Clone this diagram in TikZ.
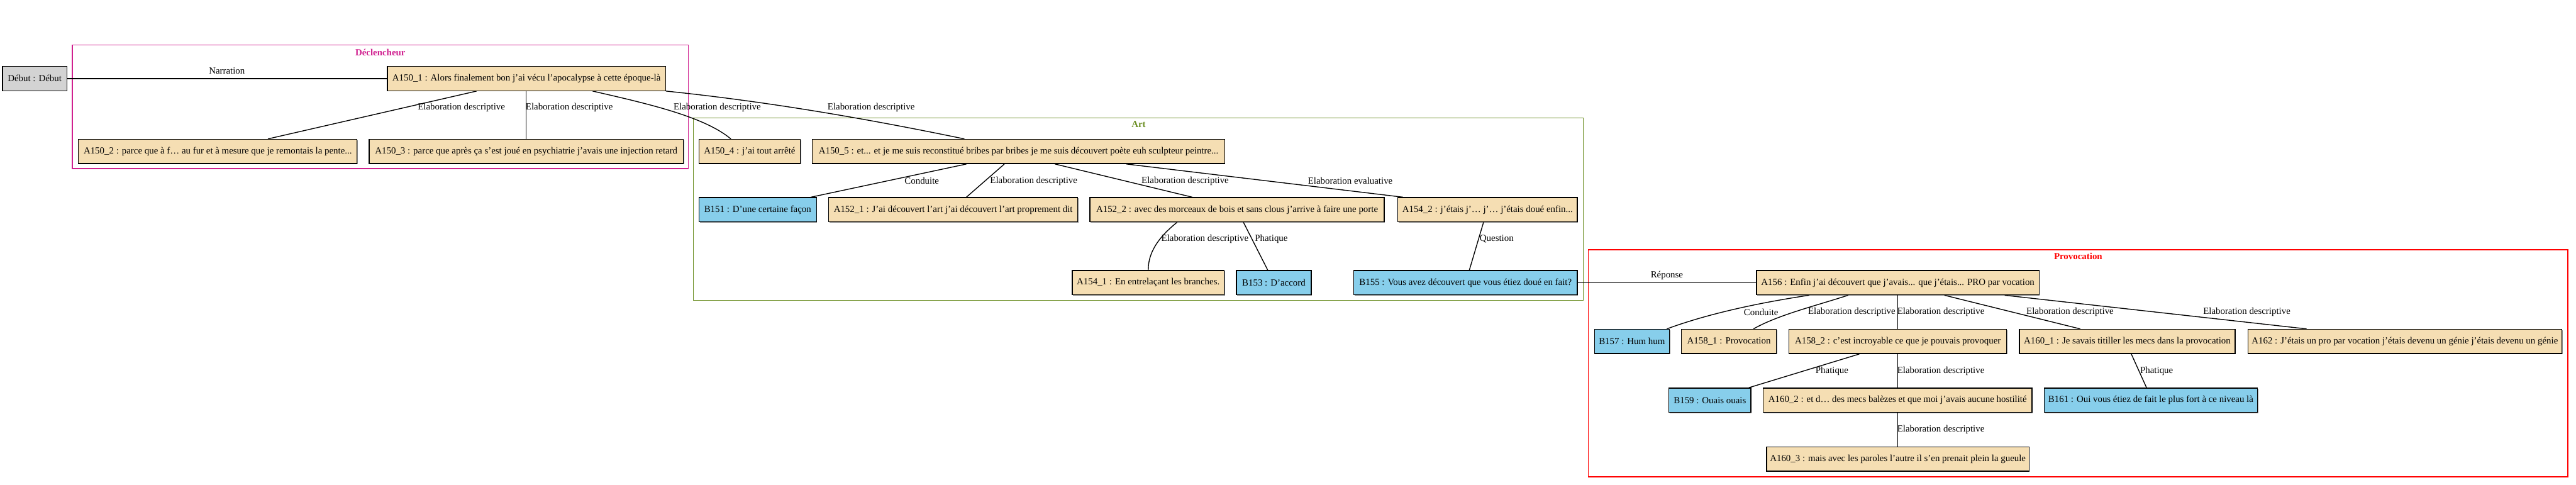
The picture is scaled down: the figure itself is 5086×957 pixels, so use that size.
\documentclass[tikz,border=0pt]{standalone}
\usepackage{fontspec}
\setmainfont{Liberation Serif}
\usetikzlibrary{shadows}
\definecolor{boxtan}{HTML}{F5DEB3}
\definecolor{boxsky}{HTML}{87CEEB}
\definecolor{boxgray}{HTML}{D3D3D3}
\definecolor{declc}{HTML}{D0208F}
\definecolor{artc}{HTML}{6B8E23}
\definecolor{provc}{HTML}{FF0000}
\begin{document}
\begin{tikzpicture}[x=0.5pt,y=-0.5pt,
  every node/.style={font=\fontsize{9.25}{11}\selectfont},
  box/.style={draw=black, line width=0.8pt, minimum height=24pt, inner sep=0pt,
    drop shadow={shadow xshift=0.7pt, shadow yshift=-0.7pt, fill=black!60, opacity=0.8}},
  abox/.style={box, fill=boxtan},
  bbox/.style={box, fill=boxsky},
  sbox/.style={box, fill=boxgray},
  edge/.style={draw=black, line width=0.85pt},
  lbl/.style={inner sep=0pt, anchor=center},
  clus/.style={line width=1pt},
  clab/.style={inner sep=0pt, font=\fontsize{9.25}{11}\selectfont\bfseries}
]
\useasboundingbox (0,0) rectangle (5086,957);

% clusters
\draw[clus, draw=declc] (143,89) rectangle (1359,333);
\node[clab, text=declc] (cDecl) at (751,103) {Déclencheur};
\draw[clus, draw=artc] (1369,233) rectangle (3126,593);
\node[clab, text=artc] (cArt) at (2248,245) {Art};
\draw[clus, draw=provc] (3136,493) rectangle (5070,941);
\node[clab, text=provc] (cProv) at (4103,506) {Provocation};

% nodes
\node[sbox, minimum width=63.5pt] (Debut) at (68.5,155) {Début : Début};
\node[abox, minimum width=274.5pt] (A150_1) at (1039.5,155) {A150\_1 : Alors finalement bon j’ai vécu l’apocalypse à cette époque-là};
\node[abox, minimum width=275pt] (A150_2) at (430,299) {A150\_2 : parce que à f… au fur et à mesure que je remontais la pente...};
\node[abox, minimum width=310pt] (A150_3) at (1039,299) {A150\_3 : parce que après ça s’est joué en psychiatrie j’avais une injection retard};
\node[abox, minimum width=100pt] (A150_4) at (1480,299) {A150\_4 : j’ai tout arrêté};
\node[abox, minimum width=407pt] (A150_5) at (2011,299) {A150\_5 : et... et je me suis reconstitué bribes par bribes je me suis découvert poète euh sculpteur peintre...};
\node[bbox, minimum width=116pt] (B151) at (1496,414) {B151 : D’une certaine façon};
\node[abox, minimum width=246pt] (A152_1) at (1882,414) {A152\_1 : J’ai découvert l’art j’ai découvert l’art proprement dit};
\node[abox, minimum width=290.5pt] (A152_2) at (2442.5,414) {A152\_2 : avec des morceaux de bois et sans clous j’arrive à faire une porte};
\node[abox, minimum width=177pt] (A154_2) at (2937,414) {A154\_2 : j’étais j’… j’… j’étais doué enfin...};
\node[abox, minimum width=150pt] (A154_1) at (2267,558) {A154\_1 : En entrelaçant les branches.};
\node[bbox, minimum width=74pt] (B153) at (2515,558) {B153 : D’accord};
\node[bbox, minimum width=220.5pt] (B155) at (2893.5,558) {B155 : Vous avez découvert que vous étiez doué en fait?};
\node[abox, minimum width=279pt] (A156) at (3747,558) {A156 : Enfin j’ai découvert que j’avais... que j’étais... PRO par vocation};
\node[bbox, minimum width=74pt] (B157) at (3222,674) {B157 : Hum hum};
\node[abox, minimum width=93.5pt] (A158_1) at (3413.5,674) {A158\_1 : Provocation};
\node[abox, minimum width=215pt] (A158_2) at (3747,674) {A158\_2 : c’est incroyable ce que je pouvais provoquer};
\node[abox, minimum width=213pt] (A160_1) at (4200,674) {A160\_1 : Je savais titiller les mecs dans la provocation};
\node[abox, minimum width=310pt] (A162) at (4748,674) {A162 : J’étais un pro par vocation j’étais devenu un génie j’étais devenu un génie};
\node[bbox, minimum width=81pt] (B159) at (3376,790) {B159 : Ouais ouais};
\node[abox, minimum width=265.5pt] (A160_2) at (3746.5,790) {A160\_2 : et d… des mecs balèzes et que moi j’avais aucune hostilité};
\node[bbox, minimum width=210.5pt] (B161) at (4246.5,790) {B161 : Oui vous étiez de fait le plus fort à ce niveau là};
\node[abox, minimum width=259pt] (A160_3) at (3747,906) {A160\_3 : mais avec les paroles l’autre il s’en prenait plein la gueule};

% edges
\draw[edge] (Debut.east) -- (A150_1.west) (448,140) node[lbl] {Narration};
\draw[edge] (A150_1.south -| 941,0) -- (A150_2.north -| 529,0) (911,212) node[lbl] {Elaboration descriptive};
\draw[edge] (A150_1.south -| 1039,0) -- (A150_3.north -| 1039,0) (1124,212) node[lbl] {Elaboration descriptive};
\draw[edge] (A150_1.south -| 1170,0) .. controls (1280,205) and (1390,230) .. (A150_4.north -| 1443,0) (1416,212) node[lbl] {Elaboration descriptive};
\draw[edge] (A150_1.south east) .. controls (1510,200) and (1700,232) .. (A150_5.north -| 1904,0) (1720,212) node[lbl] {Elaboration descriptive};
\draw[edge] (A150_5.south -| 1908,0) -- (B151.north -| 1601,0) (1820,357) node[lbl] {Conduite};
\draw[edge] (A150_5.south -| 1983,0) -- (A152_1.north -| 1908,0) (2041,357) node[lbl] {Elaboration descriptive};
\draw[edge] (A150_5.south -| 2083,0) -- (A152_2.north -| 2354,0) (2340,357) node[lbl] {Elaboration descriptive};
\draw[edge] (A150_5.south -| 2224,0) -- (A154_2.north -| 2770,0) (2666,357) node[lbl] {Elaboration evaluative};
\draw[edge] (A152_2.south -| 2324,0) .. controls (2285,470) and (2267,500) .. (A154_1.north -| 2267,0) (2379,472) node[lbl] {Elaboration descriptive};
\draw[edge] (A152_2.south -| 2455,0) -- (B153.north -| 2503,0) (2510,472) node[lbl] {Phatique};
\draw[edge] (A154_2.south -| 2929,0) -- (B155.north -| 2901,0) (2955,472) node[lbl] {Question};
\draw[edge] (B155.east) -- (A156.west) (3291,544) node[lbl] {Réponse};
\draw[edge] (A156.south -| 3572,0) .. controls (3470,598) and (3370,620) .. (B157.north -| 3291,0) (3477,616) node[lbl] {Conduite};
\draw[edge] (A156.south -| 3649,0) .. controls (3580,605) and (3510,622) .. (A158_1.north -| 3462,0) (3656,616) node[lbl] {Elaboration descriptive};
\draw[edge] (A156.south -| 3747,0) -- (A158_2.north -| 3747,0) (3832,616) node[lbl] {Elaboration descriptive};
\draw[edge] (A156.south -| 3839,0) -- (A160_1.north -| 4107,0) (4087,616) node[lbl] {Elaboration descriptive};
\draw[edge] (A156.south -| 3958,0) -- (A162.north -| 4554,0) (4436,616) node[lbl] {Elaboration descriptive};
\draw[edge] (A158_2.south -| 3671,0) -- (B159.north -| 3453,0) (3617,733) node[lbl] {Phatique};
\draw[edge] (A158_2.south -| 3747,0) -- (A160_2.north -| 3747,0) (3832,733) node[lbl] {Elaboration descriptive};
\draw[edge] (A160_1.south -| 4208,0) -- (B161.north -| 4238,0) (4258,733) node[lbl] {Phatique};
\draw[edge] (A160_2.south -| 3747,0) -- (A160_3.north -| 3747,0) (3832,848) node[lbl] {Elaboration descriptive};
\end{tikzpicture}
\end{document}
